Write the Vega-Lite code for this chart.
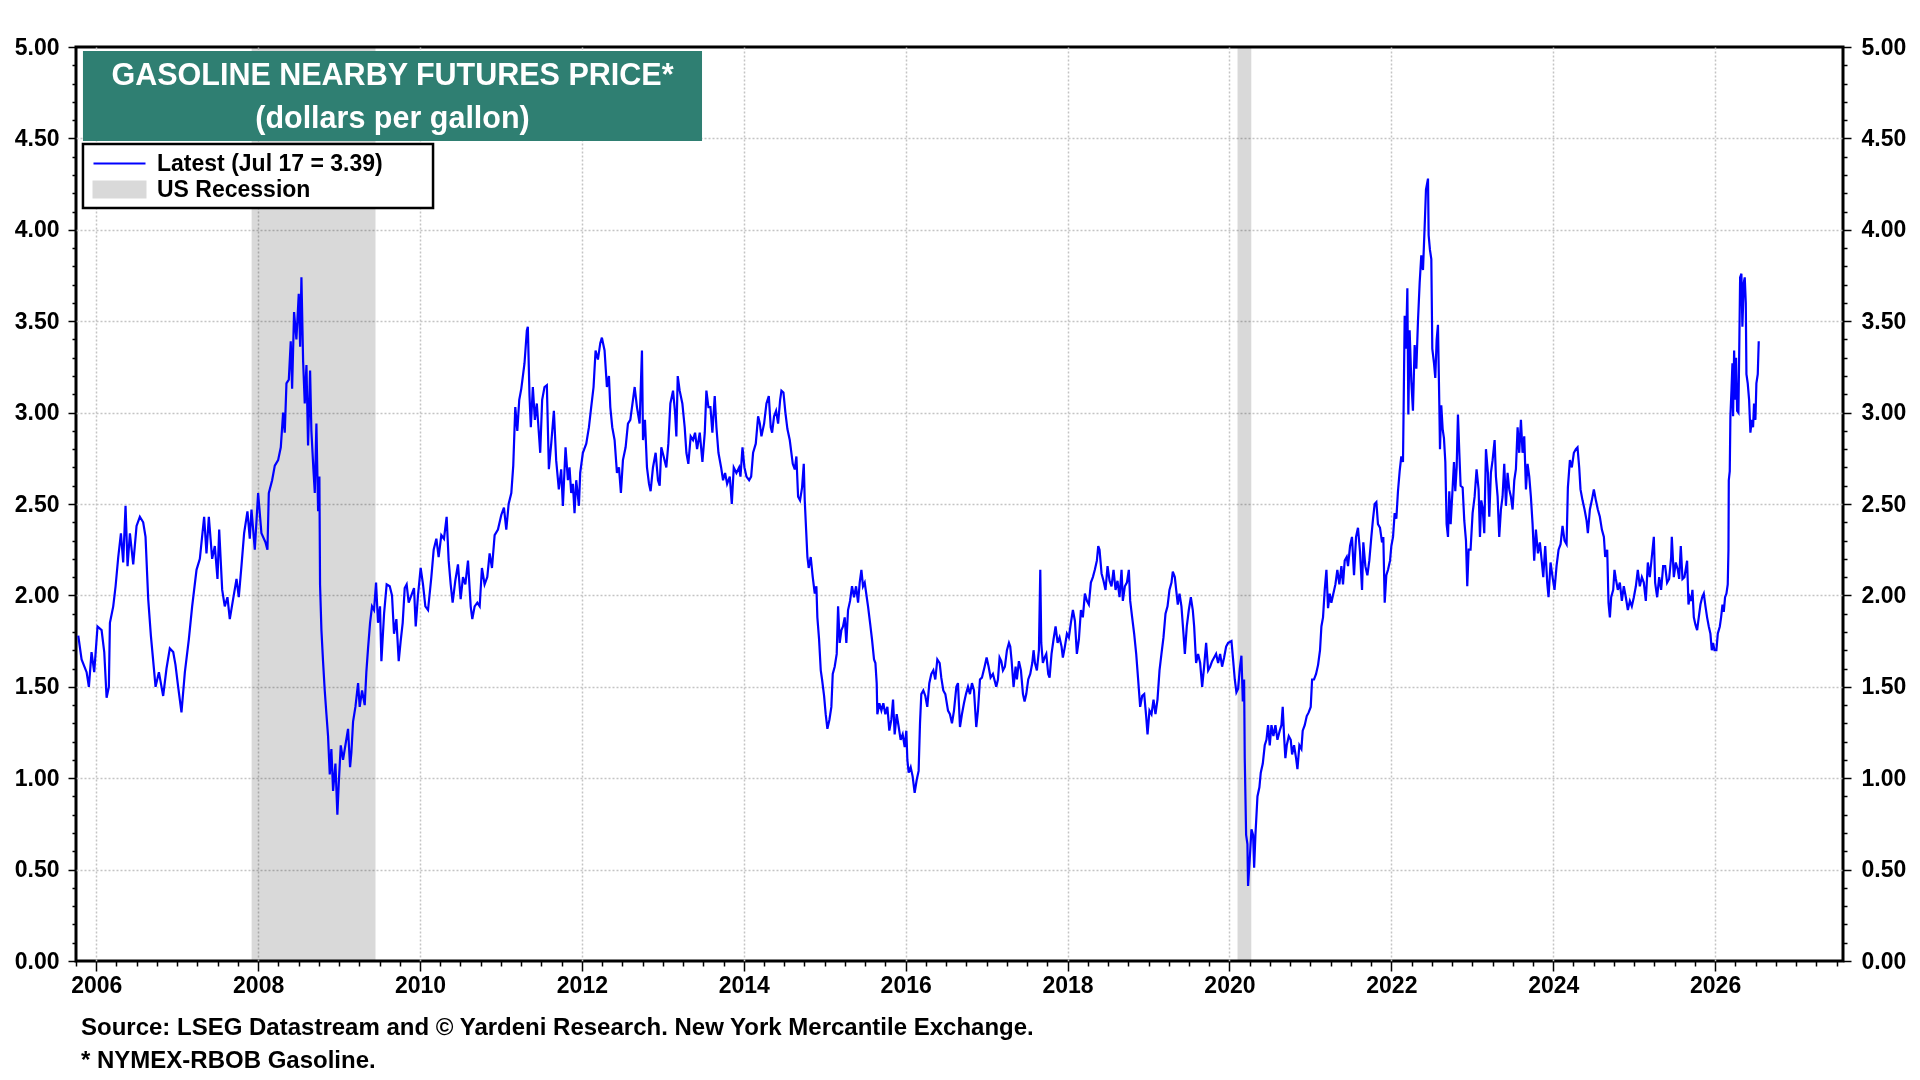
{
  "$schema": "https://vega.github.io/schema/vega-lite/v6.json",
  "width": 1767,
  "height": 914,
  "autosize": "none",
  "padding": {"left": 76, "top": 47, "right": 77, "bottom": 119},
  "background": "white",
  "config": {
    "view": {"stroke": "#000000", "strokeWidth": 3},
    "font": "Liberation Sans",
    "axis": {
      "domain": false,
      "title": null,
      "labelFont": "Liberation Sans",
      "labelFontWeight": "bold",
      "labelFontSize": 23,
      "labelColor": "#000000",
      "tickColor": "#000000",
      "tickWidth": 1.5,
      "labelOverlap": false,
      "labelFlush": false,
      "labelBound": false
    }
  },
  "title": {
    "text": ["Source: LSEG Datastream and © Yardeni Research. New York Mercantile Exchange.", "* NYMEX-RBOB Gasoline."],
    "orient": "bottom",
    "anchor": "start",
    "frame": "group",
    "font": "Liberation Sans",
    "fontSize": 24,
    "fontWeight": "bold",
    "color": "#000000",
    "lineHeight": 33,
    "offset": 19,
    "dx": 5
  },
  "datasets": {
    "recessions": [
      {"start": 2007.92, "end": 2009.45},
      {"start": 2020.1, "end": 2020.27}
    ],
    "gasoline": [
      {"year":2005.778,"price":1.78},{"year":2005.819,"price":1.65},{"year":2005.881,"price":1.58},{"year":2005.909,"price":1.50},{"year":2005.942,"price":1.69},{"year":2005.975,"price":1.58},{"year":2006.016,"price":1.83},{"year":2006.066,"price":1.81},{"year":2006.099,"price":1.69},{"year":2006.128,"price":1.44},{"year":2006.156,"price":1.50},{"year":2006.169,"price":1.85},{"year":2006.210,"price":1.94},{"year":2006.239,"price":2.05},{"year":2006.272,"price":2.21},{"year":2006.305,"price":2.34},{"year":2006.333,"price":2.18},{"year":2006.362,"price":2.49},{"year":2006.387,"price":2.16},{"year":2006.416,"price":2.34},{"year":2006.457,"price":2.17},{"year":2006.498,"price":2.38},{"year":2006.539,"price":2.43},{"year":2006.580,"price":2.40},{"year":2006.609,"price":2.32},{"year":2006.642,"price":1.98},{"year":2006.675,"price":1.78},{"year":2006.704,"price":1.64},{"year":2006.733,"price":1.50},{"year":2006.774,"price":1.58},{"year":2006.827,"price":1.45},{"year":2006.868,"price":1.60},{"year":2006.909,"price":1.71},{"year":2006.951,"price":1.69},{"year":2006.979,"price":1.62},{"year":2007.012,"price":1.50},{"year":2007.053,"price":1.36},{"year":2007.095,"price":1.58},{"year":2007.144,"price":1.76},{"year":2007.185,"price":1.94},{"year":2007.239,"price":2.14},{"year":2007.280,"price":2.20},{"year":2007.333,"price":2.43},{"year":2007.362,"price":2.23},{"year":2007.391,"price":2.43},{"year":2007.432,"price":2.20},{"year":2007.465,"price":2.27},{"year":2007.498,"price":2.09},{"year":2007.519,"price":2.36},{"year":2007.556,"price":2.03},{"year":2007.588,"price":1.94},{"year":2007.621,"price":1.99},{"year":2007.650,"price":1.87},{"year":2007.691,"price":1.98},{"year":2007.733,"price":2.09},{"year":2007.761,"price":1.99},{"year":2007.794,"price":2.16},{"year":2007.827,"price":2.34},{"year":2007.868,"price":2.46},{"year":2007.897,"price":2.31},{"year":2007.918,"price":2.47},{"year":2007.959,"price":2.25},{"year":2008.000,"price":2.56},{"year":2008.041,"price":2.34},{"year":2008.091,"price":2.29},{"year":2008.115,"price":2.25},{"year":2008.132,"price":2.56},{"year":2008.173,"price":2.63},{"year":2008.206,"price":2.71},{"year":2008.247,"price":2.74},{"year":2008.280,"price":2.81},{"year":2008.309,"price":3.00},{"year":2008.329,"price":2.89},{"year":2008.350,"price":3.16},{"year":2008.379,"price":3.18},
      {"year":2008.403,"price":3.39},{"year":2008.420,"price":3.13},{"year":2008.444,"price":3.55},{"year":2008.473,"price":3.40},{"year":2008.502,"price":3.65},{"year":2008.519,"price":3.36},{"year":2008.535,"price":3.74},{"year":2008.556,"price":3.28},{"year":2008.576,"price":3.05},{"year":2008.597,"price":3.26},{"year":2008.617,"price":2.82},{"year":2008.642,"price":3.23},{"year":2008.658,"price":2.90},{"year":2008.683,"price":2.69},{"year":2008.700,"price":2.56},{"year":2008.720,"price":2.94},{"year":2008.741,"price":2.46},{"year":2008.757,"price":2.65},{"year":2008.765,"price":2.06},{"year":2008.782,"price":1.81},{"year":2008.802,"price":1.64},{"year":2008.823,"price":1.48},{"year":2008.844,"price":1.35},{"year":2008.864,"price":1.23},{"year":2008.885,"price":1.02},{"year":2008.905,"price":1.16},{"year":2008.926,"price":0.93},{"year":2008.955,"price":1.08},{"year":2008.979,"price":0.80},{"year":2008.996,"price":0.97},{"year":2009.021,"price":1.18},{"year":2009.049,"price":1.10},{"year":2009.078,"price":1.18},{"year":2009.111,"price":1.27},{"year":2009.136,"price":1.06},{"year":2009.152,"price":1.14},{"year":2009.173,"price":1.31},{"year":2009.202,"price":1.39},{"year":2009.235,"price":1.52},{"year":2009.255,"price":1.39},{"year":2009.284,"price":1.48},{"year":2009.317,"price":1.40},{"year":2009.337,"price":1.58},{"year":2009.358,"price":1.71},{"year":2009.383,"price":1.85},{"year":2009.407,"price":1.94},{"year":2009.432,"price":1.92},{"year":2009.457,"price":2.07},{"year":2009.481,"price":1.85},{"year":2009.506,"price":1.94},{"year":2009.523,"price":1.64},{"year":2009.556,"price":1.90},{"year":2009.588,"price":2.06},{"year":2009.626,"price":2.05},{"year":2009.654,"price":2.00},{"year":2009.679,"price":1.79},{"year":2009.708,"price":1.87},{"year":2009.737,"price":1.64},{"year":2009.761,"price":1.75},{"year":2009.786,"price":1.85},{"year":2009.811,"price":2.04},{"year":2009.835,"price":2.06},{"year":2009.860,"price":1.96},{"year":2009.893,"price":2.00},{"year":2009.926,"price":2.04},{"year":2009.947,"price":1.83},{"year":2009.975,"price":2.00},{"year":2010.008,"price":2.15},{"year":2010.037,"price":2.06},{"year":2010.066,"price":1.94},{"year":2010.099,"price":1.92},{"year":2010.140,"price":2.10},{"year":2010.169,"price":2.25},{"year":2010.202,"price":2.31},{"year":2010.230,"price":2.21},{"year":2010.263,"price":2.33},{"year":2010.296,"price":2.31},{"year":2010.329,"price":2.43},{"year":2010.354,"price":2.19},{"year":2010.379,"price":2.06},{"year":2010.403,"price":1.96},{"year":2010.436,"price":2.08},{"year":2010.469,"price":2.17},{"year":2010.502,"price":1.98},{"year":2010.531,"price":2.10},{"year":2010.560,"price":2.06},{"year":2010.593,"price":2.19},{"year":2010.626,"price":1.94},{"year":2010.646,"price":1.87},{"year":2010.675,"price":1.94},{"year":2010.708,"price":1.96},{"year":2010.737,"price":1.94},{"year":2010.765,"price":2.15},{"year":2010.798,"price":2.06},{"year":2010.831,"price":2.10},{"year":2010.860,"price":2.23},{"year":2010.889,"price":2.15},{"year":2010.922,"price":2.33},{"year":2010.963,"price":2.36},{"year":2011.004,"price":2.44},{"year":2011.037,"price":2.48},{"year":2011.066,"price":2.36},{"year":2011.095,"price":2.50},{"year":2011.128,"price":2.56},{"year":2011.152,"price":2.71},{"year":2011.177,"price":3.03},{"year":2011.202,"price":2.90},{"year":2011.226,"price":3.07},{"year":2011.251,"price":3.13},
      {"year":2011.291,"price":3.27},{"year":2011.320,"price":3.45},{"year":2011.332,"price":3.47},{"year":2011.353,"price":3.09},{"year":2011.369,"price":2.92},{"year":2011.394,"price":3.14},{"year":2011.419,"price":2.96},{"year":2011.443,"price":3.05},{"year":2011.468,"price":2.89},{"year":2011.485,"price":2.78},{"year":2011.509,"price":3.07},{"year":2011.538,"price":3.14},{"year":2011.567,"price":3.15},{"year":2011.592,"price":2.69},{"year":2011.621,"price":2.83},{"year":2011.654,"price":3.01},{"year":2011.682,"price":2.74},{"year":2011.715,"price":2.58},{"year":2011.744,"price":2.69},{"year":2011.765,"price":2.49},{"year":2011.798,"price":2.81},{"year":2011.827,"price":2.63},{"year":2011.847,"price":2.70},{"year":2011.868,"price":2.56},{"year":2011.889,"price":2.61},{"year":2011.909,"price":2.45},{"year":2011.930,"price":2.63},{"year":2011.963,"price":2.49},{"year":2011.979,"price":2.67},{"year":2012.012,"price":2.78},{"year":2012.054,"price":2.83},{"year":2012.087,"price":2.92},{"year":2012.115,"price":3.03},{"year":2012.144,"price":3.14},{"year":2012.169,"price":3.34},{"year":2012.198,"price":3.29},{"year":2012.227,"price":3.38},{"year":2012.247,"price":3.41},{"year":2012.280,"price":3.34},{"year":2012.309,"price":3.14},{"year":2012.334,"price":3.20},{"year":2012.351,"price":3.03},{"year":2012.375,"price":2.92},{"year":2012.404,"price":2.85},{"year":2012.433,"price":2.67},{"year":2012.458,"price":2.70},{"year":2012.482,"price":2.56},{"year":2012.507,"price":2.74},{"year":2012.540,"price":2.81},{"year":2012.569,"price":2.94},{"year":2012.598,"price":2.96},{"year":2012.631,"price":3.07},{"year":2012.652,"price":3.14},{"year":2012.680,"price":3.03},{"year":2012.713,"price":2.94},{"year":2012.742,"price":3.34},{"year":2012.755,"price":2.85},{"year":2012.779,"price":2.96},{"year":2012.804,"price":2.70},{"year":2012.829,"price":2.61},{"year":2012.849,"price":2.57},{"year":2012.878,"price":2.70},{"year":2012.911,"price":2.78},{"year":2012.940,"price":2.63},{"year":2012.961,"price":2.60},{"year":2012.981,"price":2.81},{"year":2013.010,"price":2.76},{"year":2013.043,"price":2.70},{"year":2013.068,"price":2.83},{"year":2013.093,"price":3.05},{"year":2013.126,"price":3.12},{"year":2013.151,"price":3.00},{"year":2013.167,"price":2.87},{"year":2013.184,"price":3.20},{"year":2013.208,"price":3.12},{"year":2013.241,"price":3.05},{"year":2013.270,"price":2.92},{"year":2013.291,"price":2.78},{"year":2013.315,"price":2.72},{"year":2013.344,"price":2.87},{"year":2013.373,"price":2.85},{"year":2013.398,"price":2.89},{"year":2013.423,"price":2.80},{"year":2013.456,"price":2.89},{"year":2013.489,"price":2.73},{"year":2013.518,"price":2.89},{"year":2013.538,"price":3.12},{"year":2013.563,"price":3.03},{"year":2013.588,"price":3.03},{"year":2013.612,"price":2.89},{"year":2013.641,"price":3.09},{"year":2013.662,"price":2.92},{"year":2013.687,"price":2.78},{"year":2013.720,"price":2.70},{"year":2013.744,"price":2.63},{"year":2013.769,"price":2.67},{"year":2013.794,"price":2.61},{"year":2013.827,"price":2.65},{"year":2013.852,"price":2.50},{"year":2013.876,"price":2.70},{"year":2013.909,"price":2.67},{"year":2013.942,"price":2.70},{"year":2013.959,"price":2.65},{"year":2013.984,"price":2.81},{"year":2014.008,"price":2.70},{"year":2014.033,"price":2.65},{"year":2014.066,"price":2.63},{"year":2014.091,"price":2.65},{"year":2014.115,"price":2.78},{"year":2014.148,"price":2.83},
      {"year":2014.177,"price":2.98},{"year":2014.198,"price":2.94},{"year":2014.218,"price":2.87},{"year":2014.251,"price":2.94},{"year":2014.280,"price":3.05},{"year":2014.309,"price":3.09},{"year":2014.333,"price":2.92},{"year":2014.350,"price":2.89},{"year":2014.374,"price":2.98},{"year":2014.399,"price":3.01},{"year":2014.424,"price":2.94},{"year":2014.449,"price":3.07},{"year":2014.465,"price":3.12},{"year":2014.490,"price":3.11},{"year":2014.514,"price":3.00},{"year":2014.539,"price":2.91},{"year":2014.568,"price":2.85},{"year":2014.588,"price":2.78},{"year":2014.605,"price":2.72},{"year":2014.630,"price":2.69},{"year":2014.650,"price":2.76},{"year":2014.671,"price":2.54},{"year":2014.695,"price":2.52},{"year":2014.720,"price":2.59},{"year":2014.741,"price":2.72},{"year":2014.753,"price":2.52},{"year":2014.770,"price":2.36},{"year":2014.786,"price":2.21},{"year":2014.802,"price":2.15},{"year":2014.827,"price":2.21},{"year":2014.852,"price":2.10},{"year":2014.877,"price":2.01},{"year":2014.897,"price":2.05},{"year":2014.909,"price":1.88},{"year":2014.930,"price":1.76},{"year":2014.951,"price":1.59},{"year":2014.967,"price":1.54},{"year":2014.992,"price":1.45},{"year":2015.012,"price":1.35},{"year":2015.033,"price":1.27},{"year":2015.058,"price":1.32},{"year":2015.082,"price":1.39},{"year":2015.099,"price":1.57},{"year":2015.123,"price":1.61},{"year":2015.148,"price":1.68},{"year":2015.165,"price":1.94},{"year":2015.185,"price":1.74},{"year":2015.206,"price":1.81},{"year":2015.226,"price":1.83},{"year":2015.247,"price":1.88},{"year":2015.267,"price":1.74},{"year":2015.288,"price":1.92},{"year":2015.313,"price":1.97},{"year":2015.337,"price":2.05},{"year":2015.362,"price":1.99},{"year":2015.387,"price":2.05},{"year":2015.412,"price":1.96},{"year":2015.432,"price":2.07},{"year":2015.453,"price":2.14},{"year":2015.473,"price":2.05},{"year":2015.494,"price":2.07},{"year":2015.519,"price":1.99},{"year":2015.535,"price":1.94},{"year":2015.560,"price":1.85},{"year":2015.584,"price":1.76},{"year":2015.609,"price":1.65},{"year":2015.626,"price":1.63},{"year":2015.642,"price":1.52},{"year":2015.650,"price":1.35},{"year":2015.675,"price":1.41},{"year":2015.700,"price":1.37},{"year":2015.724,"price":1.41},{"year":2015.749,"price":1.35},{"year":2015.774,"price":1.39},{"year":2015.798,"price":1.26},{"year":2015.823,"price":1.32},{"year":2015.844,"price":1.43},{"year":2015.864,"price":1.24},{"year":2015.889,"price":1.35},{"year":2015.914,"price":1.28},{"year":2015.938,"price":1.21},{"year":2015.963,"price":1.24},{"year":2015.988,"price":1.17},{"year":2016.008,"price":1.26},{"year":2016.021,"price":1.10},{"year":2016.037,"price":1.03},{"year":2016.062,"price":1.06},{"year":2016.086,"price":1.01},{"year":2016.111,"price":0.92},{"year":2016.136,"price":0.99},{"year":2016.160,"price":1.04},{"year":2016.177,"price":1.30},{"year":2016.193,"price":1.46},{"year":2016.218,"price":1.48},{"year":2016.243,"price":1.45},{"year":2016.267,"price":1.39},{"year":2016.292,"price":1.52},{"year":2016.317,"price":1.57},{"year":2016.342,"price":1.59},{"year":2016.366,"price":1.54},{"year":2016.391,"price":1.65},{"year":2016.420,"price":1.63},{"year":2016.440,"price":1.55},{"year":2016.465,"price":1.48},{"year":2016.490,"price":1.46},{"year":2016.523,"price":1.37},{"year":2016.547,"price":1.35},{"year":2016.572,"price":1.30},{"year":2016.597,"price":1.37},{"year":2016.626,"price":1.50},{"year":2016.646,"price":1.52},{"year":2016.671,"price":1.28},{"year":2016.695,"price":1.35},{"year":2016.720,"price":1.41},{"year":2016.745,"price":1.46},{"year":2016.770,"price":1.50},{"year":2016.794,"price":1.46},{"year":2016.819,"price":1.52},{"year":2016.844,"price":1.48},{"year":2016.872,"price":1.28},{"year":2016.893,"price":1.37},{"year":2016.918,"price":1.54},{"year":2016.942,"price":1.55},{"year":2016.975,"price":1.61},{"year":2017.000,"price":1.66},{"year":2017.025,"price":1.61},{"year":2017.049,"price":1.55},{"year":2017.078,"price":1.57},
      {"year":2017.119,"price":1.50},{"year":2017.140,"price":1.54},{"year":2017.160,"price":1.66},{"year":2017.181,"price":1.64},{"year":2017.202,"price":1.59},{"year":2017.226,"price":1.61},{"year":2017.251,"price":1.70},{"year":2017.276,"price":1.74},{"year":2017.292,"price":1.72},{"year":2017.309,"price":1.64},{"year":2017.333,"price":1.50},{"year":2017.358,"price":1.61},{"year":2017.374,"price":1.54},{"year":2017.399,"price":1.64},{"year":2017.424,"price":1.59},{"year":2017.449,"price":1.46},{"year":2017.469,"price":1.42},{"year":2017.490,"price":1.46},{"year":2017.514,"price":1.54},{"year":2017.539,"price":1.57},{"year":2017.564,"price":1.63},{"year":2017.580,"price":1.70},{"year":2017.597,"price":1.63},{"year":2017.621,"price":1.59},{"year":2017.646,"price":1.70},{"year":2017.663,"price":2.14},{"year":2017.675,"price":1.74},{"year":2017.695,"price":1.63},{"year":2017.716,"price":1.66},{"year":2017.737,"price":1.68},{"year":2017.761,"price":1.57},{"year":2017.778,"price":1.55},{"year":2017.802,"price":1.68},{"year":2017.827,"price":1.76},{"year":2017.852,"price":1.83},{"year":2017.877,"price":1.74},{"year":2017.901,"price":1.77},{"year":2017.926,"price":1.72},{"year":2017.942,"price":1.66},{"year":2017.967,"price":1.72},{"year":2017.992,"price":1.79},{"year":2018.016,"price":1.77},{"year":2018.041,"price":1.85},{"year":2018.066,"price":1.92},{"year":2018.091,"price":1.86},{"year":2018.115,"price":1.68},{"year":2018.140,"price":1.76},{"year":2018.165,"price":1.92},{"year":2018.189,"price":1.88},{"year":2018.214,"price":2.01},{"year":2018.239,"price":1.97},{"year":2018.263,"price":1.95},{"year":2018.288,"price":2.07},{"year":2018.313,"price":2.10},{"year":2018.337,"price":2.14},{"year":2018.362,"price":2.19},{"year":2018.379,"price":2.27},{"year":2018.395,"price":2.25},{"year":2018.420,"price":2.12},{"year":2018.444,"price":2.08},{"year":2018.469,"price":2.03},{"year":2018.494,"price":2.16},{"year":2018.519,"price":2.08},{"year":2018.543,"price":2.05},{"year":2018.568,"price":2.14},{"year":2018.593,"price":2.03},{"year":2018.617,"price":2.08},{"year":2018.642,"price":1.99},{"year":2018.667,"price":2.14},{"year":2018.683,"price":1.97},{"year":2018.708,"price":2.05},{"year":2018.733,"price":2.07},{"year":2018.757,"price":2.14},{"year":2018.774,"price":1.97},{"year":2018.798,"price":1.88},{"year":2018.823,"price":1.79},{"year":2018.848,"price":1.68},{"year":2018.872,"price":1.54},{"year":2018.897,"price":1.39},{"year":2018.922,"price":1.45},{"year":2018.947,"price":1.46},{"year":2018.971,"price":1.34},{"year":2018.988,"price":1.24},{"year":2019.012,"price":1.37},{"year":2019.037,"price":1.35},{"year":2019.062,"price":1.43},{"year":2019.086,"price":1.35},{"year":2019.111,"price":1.43},{"year":2019.136,"price":1.59},{"year":2019.160,"price":1.68},{"year":2019.185,"price":1.77},{"year":2019.210,"price":1.90},{"year":2019.235,"price":1.94},{"year":2019.259,"price":2.03},{"year":2019.284,"price":2.07},{"year":2019.300,"price":2.13},{"year":2019.325,"price":2.10},{"year":2019.342,"price":2.03},{"year":2019.362,"price":1.95},{"year":2019.383,"price":2.01},{"year":2019.407,"price":1.94},{"year":2019.432,"price":1.79},{"year":2019.449,"price":1.68},{"year":2019.473,"price":1.83},{"year":2019.498,"price":1.92},{"year":2019.523,"price":1.99},{"year":2019.547,"price":1.92},{"year":2019.564,"price":1.83},{"year":2019.588,"price":1.63},{"year":2019.613,"price":1.68},{"year":2019.638,"price":1.63},{"year":2019.663,"price":1.50},{"year":2019.687,"price":1.61},{"year":2019.712,"price":1.74},{"year":2019.737,"price":1.59},{"year":2019.761,"price":1.61},{"year":2019.786,"price":1.64},{"year":2019.811,"price":1.66},{"year":2019.835,"price":1.68},{"year":2019.860,"price":1.63},{"year":2019.885,"price":1.68},{"year":2019.909,"price":1.61},{"year":2019.934,"price":1.66},{"year":2019.959,"price":1.72},{"year":2019.984,"price":1.74},
      {"year":2020.025,"price":1.75},{"year":2020.045,"price":1.65},{"year":2020.066,"price":1.54},{"year":2020.086,"price":1.47},{"year":2020.107,"price":1.49},{"year":2020.128,"price":1.60},{"year":2020.148,"price":1.67},{"year":2020.165,"price":1.42},{"year":2020.181,"price":1.54},{"year":2020.189,"price":1.11},{"year":2020.206,"price":0.69},{"year":2020.222,"price":0.64},{"year":2020.230,"price":0.41},{"year":2020.251,"price":0.56},{"year":2020.272,"price":0.72},{"year":2020.292,"price":0.69},{"year":2020.305,"price":0.51},{"year":2020.321,"price":0.69},{"year":2020.346,"price":0.90},{"year":2020.370,"price":0.95},{"year":2020.387,"price":1.03},{"year":2020.412,"price":1.08},{"year":2020.436,"price":1.18},{"year":2020.457,"price":1.21},{"year":2020.477,"price":1.29},{"year":2020.498,"price":1.18},{"year":2020.519,"price":1.29},{"year":2020.543,"price":1.23},{"year":2020.568,"price":1.29},{"year":2020.593,"price":1.21},{"year":2020.621,"price":1.26},{"year":2020.642,"price":1.29},{"year":2020.658,"price":1.39},{"year":2020.675,"price":1.23},{"year":2020.691,"price":1.11},{"year":2020.708,"price":1.18},{"year":2020.733,"price":1.23},{"year":2020.757,"price":1.21},{"year":2020.774,"price":1.13},{"year":2020.798,"price":1.18},{"year":2020.823,"price":1.11},{"year":2020.840,"price":1.05},{"year":2020.864,"price":1.18},{"year":2020.889,"price":1.16},{"year":2020.905,"price":1.26},{"year":2020.930,"price":1.29},{"year":2020.955,"price":1.34},{"year":2020.979,"price":1.36},{"year":2021.004,"price":1.39},{"year":2021.021,"price":1.54},{"year":2021.045,"price":1.54},{"year":2021.070,"price":1.57},{"year":2021.095,"price":1.62},{"year":2021.119,"price":1.70},{"year":2021.136,"price":1.83},{"year":2021.156,"price":1.88},{"year":2021.177,"price":2.03},{"year":2021.198,"price":2.14},{"year":2021.218,"price":1.93},{"year":2021.239,"price":2.01},{"year":2021.259,"price":1.96},{"year":2021.284,"price":2.01},{"year":2021.309,"price":2.06},{"year":2021.333,"price":2.14},{"year":2021.358,"price":2.06},{"year":2021.383,"price":2.16},{"year":2021.403,"price":2.06},{"year":2021.424,"price":2.19},{"year":2021.449,"price":2.21},{"year":2021.465,"price":2.16},{"year":2021.490,"price":2.27},{"year":2021.514,"price":2.32},{"year":2021.539,"price":2.11},{"year":2021.564,"price":2.32},{"year":2021.588,"price":2.37},{"year":2021.613,"price":2.24},{"year":2021.638,"price":2.03},{"year":2021.654,"price":2.29},{"year":2021.679,"price":2.16},{"year":2021.704,"price":2.11},{"year":2021.728,"price":2.19},{"year":2021.753,"price":2.32},{"year":2021.774,"price":2.42},{"year":2021.794,"price":2.50},{"year":2021.815,"price":2.51},{"year":2021.835,"price":2.39},{"year":2021.860,"price":2.37},{"year":2021.885,"price":2.29},{"year":2021.901,"price":2.32},{"year":2021.918,"price":1.96},{"year":2021.938,"price":2.11},{"year":2021.959,"price":2.14},{"year":2021.984,"price":2.19},{"year":2022.000,"price":2.27},{"year":2022.021,"price":2.32},{"year":2022.041,"price":2.45},{"year":2022.062,"price":2.42},{"year":2022.082,"price":2.57},{"year":2022.103,"price":2.68},{"year":2022.123,"price":2.76},{"year":2022.144,"price":2.73},{"year":2022.165,"price":3.53},{"year":2022.181,"price":3.35},{"year":2022.198,"price":3.68},{"year":2022.210,"price":2.99},{"year":2022.226,"price":3.45},{"year":2022.247,"price":3.17},{"year":2022.267,"price":3.01},{"year":2022.288,"price":3.37},{"year":2022.309,"price":3.24},{"year":2022.329,"price":3.50},{"year":2022.350,"price":3.71},{"year":2022.370,"price":3.86},{"year":2022.391,"price":3.78},{"year":2022.412,"price":4.02},{"year":2022.428,"price":4.22},{"year":2022.453,"price":4.28},{"year":2022.461,"price":3.97},{"year":2022.477,"price":3.89},{"year":2022.494,"price":3.84},{"year":2022.506,"price":3.35},{"year":2022.527,"price":3.27},{"year":2022.543,"price":3.19},{"year":2022.560,"price":3.40},{"year":2022.576,"price":3.48},{"year":2022.593,"price":3.04},{"year":2022.601,"price":2.80},{"year":2022.617,"price":3.04},{"year":2022.634,"price":2.91},{"year":2022.650,"price":2.86},{"year":2022.667,"price":2.73},{"year":2022.683,"price":2.39},{"year":2022.700,"price":2.32},{"year":2022.716,"price":2.57},{"year":2022.733,"price":2.39},{"year":2022.749,"price":2.52},{"year":2022.774,"price":2.73},{"year":2022.790,"price":2.57},{"year":2022.807,"price":2.70},{"year":2022.823,"price":2.99},{"year":2022.840,"price":2.78},{"year":2022.856,"price":2.60},
      {"year":2022.881,"price":2.59},{"year":2022.901,"price":2.41},{"year":2022.922,"price":2.30},{"year":2022.938,"price":2.05},{"year":2022.955,"price":2.25},{"year":2022.979,"price":2.25},{"year":2023.004,"price":2.45},{"year":2023.029,"price":2.54},{"year":2023.053,"price":2.69},{"year":2023.078,"price":2.58},{"year":2023.095,"price":2.32},{"year":2023.111,"price":2.52},{"year":2023.128,"price":2.48},{"year":2023.148,"price":2.34},{"year":2023.169,"price":2.80},{"year":2023.193,"price":2.67},{"year":2023.210,"price":2.43},{"year":2023.230,"price":2.67},{"year":2023.251,"price":2.74},{"year":2023.276,"price":2.85},{"year":2023.292,"price":2.65},{"year":2023.313,"price":2.54},{"year":2023.333,"price":2.32},{"year":2023.354,"price":2.47},{"year":2023.374,"price":2.54},{"year":2023.395,"price":2.72},{"year":2023.416,"price":2.49},{"year":2023.436,"price":2.67},{"year":2023.457,"price":2.58},{"year":2023.477,"price":2.54},{"year":2023.498,"price":2.47},{"year":2023.519,"price":2.63},{"year":2023.539,"price":2.69},{"year":2023.560,"price":2.92},{"year":2023.580,"price":2.78},{"year":2023.601,"price":2.96},{"year":2023.621,"price":2.78},{"year":2023.642,"price":2.87},{"year":2023.663,"price":2.58},{"year":2023.683,"price":2.72},{"year":2023.704,"price":2.65},{"year":2023.724,"price":2.54},{"year":2023.745,"price":2.39},{"year":2023.765,"price":2.19},{"year":2023.786,"price":2.36},{"year":2023.811,"price":2.23},{"year":2023.835,"price":2.29},{"year":2023.860,"price":2.18},{"year":2023.877,"price":2.10},{"year":2023.901,"price":2.27},{"year":2023.926,"price":2.07},{"year":2023.942,"price":1.99},{"year":2023.967,"price":2.18},{"year":2023.992,"price":2.10},{"year":2024.016,"price":2.03},{"year":2024.041,"price":2.16},{"year":2024.066,"price":2.25},{"year":2024.091,"price":2.28},{"year":2024.115,"price":2.38},{"year":2024.140,"price":2.30},{"year":2024.165,"price":2.28},{"year":2024.181,"price":2.59},{"year":2024.206,"price":2.74},{"year":2024.230,"price":2.70},{"year":2024.255,"price":2.78},{"year":2024.280,"price":2.80},{"year":2024.300,"price":2.81},{"year":2024.321,"price":2.70},{"year":2024.337,"price":2.58},{"year":2024.362,"price":2.52},{"year":2024.387,"price":2.47},{"year":2024.412,"price":2.41},{"year":2024.428,"price":2.34},{"year":2024.453,"price":2.47},{"year":2024.477,"price":2.52},{"year":2024.502,"price":2.58},{"year":2024.527,"price":2.52},{"year":2024.551,"price":2.47},{"year":2024.576,"price":2.43},{"year":2024.601,"price":2.36},{"year":2024.626,"price":2.32},{"year":2024.642,"price":2.21},{"year":2024.667,"price":2.25},{"year":2024.683,"price":1.96},{"year":2024.700,"price":1.88},{"year":2024.716,"price":1.99},{"year":2024.741,"price":2.03},{"year":2024.757,"price":2.14},{"year":2024.774,"price":2.09},{"year":2024.798,"price":2.03},{"year":2024.823,"price":2.07},{"year":2024.848,"price":1.97},{"year":2024.872,"price":2.05},{"year":2024.897,"price":1.99},{"year":2024.922,"price":1.92},{"year":2024.947,"price":1.97},{"year":2024.971,"price":1.94},{"year":2024.996,"price":1.99},{"year":2025.021,"price":2.05},{"year":2025.045,"price":2.14},{"year":2025.070,"price":2.05},{"year":2025.095,"price":2.10},{"year":2025.119,"price":2.07},{"year":2025.144,"price":1.97},{"year":2025.169,"price":2.18},{"year":2025.193,"price":2.10},{"year":2025.218,"price":2.21},{"year":2025.243,"price":2.32},{"year":2025.259,"price":2.07},{"year":2025.284,"price":1.99},{"year":2025.309,"price":2.10},{"year":2025.333,"price":2.03},{"year":2025.358,"price":2.16},{"year":2025.383,"price":2.16},{"year":2025.407,"price":2.07},{"year":2025.432,"price":2.09},{"year":2025.457,"price":2.21},{"year":2025.465,"price":2.32},{"year":2025.490,"price":2.10},{"year":2025.514,"price":2.18},{"year":2025.539,"price":2.14},{"year":2025.556,"price":2.09},{"year":2025.576,"price":2.27},{"year":2025.597,"price":2.09},{"year":2025.621,"price":2.10},
      {"year":2025.654,"price":2.19},{"year":2025.671,"price":1.95},{"year":2025.687,"price":1.99},{"year":2025.704,"price":1.97},{"year":2025.720,"price":2.03},{"year":2025.737,"price":1.88},{"year":2025.757,"price":1.84},{"year":2025.778,"price":1.81},{"year":2025.798,"price":1.88},{"year":2025.819,"price":1.95},{"year":2025.840,"price":1.99},{"year":2025.860,"price":2.01},{"year":2025.881,"price":1.94},{"year":2025.901,"price":1.88},{"year":2025.922,"price":1.83},{"year":2025.942,"price":1.79},{"year":2025.959,"price":1.70},{"year":2025.975,"price":1.74},{"year":2025.992,"price":1.70},{"year":2026.016,"price":1.70},{"year":2026.033,"price":1.79},{"year":2026.058,"price":1.83},{"year":2026.074,"price":1.88},{"year":2026.091,"price":1.95},{"year":2026.107,"price":1.91},{"year":2026.123,"price":1.99},{"year":2026.140,"price":2.01},{"year":2026.156,"price":2.06},{"year":2026.165,"price":2.25},{"year":2026.169,"price":2.63},{"year":2026.181,"price":2.68},{"year":2026.189,"price":2.98},{"year":2026.202,"price":3.12},{"year":2026.214,"price":3.27},{"year":2026.222,"price":2.98},{"year":2026.235,"price":3.34},{"year":2026.247,"price":3.07},{"year":2026.259,"price":3.30},{"year":2026.272,"price":3.01},{"year":2026.288,"price":3.00},{"year":2026.300,"price":3.41},{"year":2026.309,"price":3.74},{"year":2026.325,"price":3.76},{"year":2026.337,"price":3.47},{"year":2026.354,"price":3.71},{"year":2026.366,"price":3.74},{"year":2026.379,"price":3.60},{"year":2026.387,"price":3.21},{"year":2026.403,"price":3.16},{"year":2026.420,"price":3.07},{"year":2026.436,"price":2.89},{"year":2026.453,"price":2.96},{"year":2026.469,"price":2.92},{"year":2026.481,"price":3.05},{"year":2026.498,"price":2.96},{"year":2026.510,"price":3.16},{"year":2026.527,"price":3.21},{"year":2026.539,"price":3.39}
    ]
  },
  "layer": [
    {
      "data": {"name": "recessions"},
      "mark": {"type": "rect", "blend": "multiply"},
      "encoding": {
        "x": {
          "field": "start",
          "type": "quantitative",
          "scale": {"domain": [2005.75, 2027.58], "nice": false, "zero": false},
          "axis": {
            "orient": "bottom",
            "values": [2005.75,2006,2006.25,2006.5,2006.75,2007,2007.25,2007.5,2007.75,2008,2008.25,2008.5,2008.75,2009,2009.25,2009.5,2009.75,2010,2010.25,2010.5,2010.75,2011,2011.25,2011.5,2011.75,2012,2012.25,2012.5,2012.75,2013,2013.25,2013.5,2013.75,2014,2014.25,2014.5,2014.75,2015,2015.25,2015.5,2015.75,2016,2016.25,2016.5,2016.75,2017,2017.25,2017.5,2017.75,2018,2018.25,2018.5,2018.75,2019,2019.25,2019.5,2019.75,2020,2020.25,2020.5,2020.75,2021,2021.25,2021.5,2021.75,2022,2022.25,2022.5,2022.75,2023,2023.25,2023.5,2023.75,2024,2024.25,2024.5,2024.75,2025,2025.25,2025.5,2025.75,2026,2026.25,2026.5,2026.75,2027,2027.25,2027.5],
            "labelExpr": "datum.value % 2 === 0 ? format(datum.value, 'd') : ''",
            "tickSize": {"condition": {"test": "datum.value % 2 === 0", "value": 10}, "value": 5},
            "grid": true,
            "gridColor": "#c4c4c4",
            "gridDash": [2, 2],
            "gridWidth": 1.5,
            "gridOpacity": {"condition": {"test": "datum.value % 2 === 0", "value": 1}, "value": 0},
            "labelPadding": 3
          }
        },
        "x2": {"field": "end"},
        "y": {
          "datum": 0,
          "type": "quantitative",
          "scale": {"domain": [0, 5], "nice": false},
          "axis": {
            "orient": "left",
            "values": [0,0.1,0.2,0.3,0.4,0.5,0.6,0.7,0.8,0.9,1,1.1,1.2,1.3,1.4,1.5,1.6,1.7,1.8,1.9,2,2.1,2.2,2.3,2.4,2.5,2.6,2.7,2.8,2.9,3,3.1,3.2,3.3,3.4,3.5,3.6,3.7,3.8,3.9,4,4.1,4.2,4.3,4.4,4.5,4.6,4.7,4.8,4.9,5],
            "labelExpr": "round(datum.value * 10) % 5 === 0 ? format(datum.value, '.2f') : ''",
            "tickSize": {"condition": {"test": "round(datum.value * 10) % 5 === 0", "value": 8}, "value": 4},
            "grid": true,
            "gridColor": "#c4c4c4",
            "gridDash": [2, 2],
            "gridWidth": 1.5,
            "gridOpacity": {"condition": {"test": "round(datum.value * 10) % 5 === 0 && datum.value > 0 && datum.value < 5", "value": 1}, "value": 0},
            "labelPadding": 9
          }
        },
        "y2": {"datum": 5},
        "color": {
          "datum": "US Recession",
          "type": "nominal",
          "scale": {"domain": ["Latest (Jul 17 = 3.39)", "US Recession"], "range": ["#0000ff", "#d9d9d9"]},
          "legend": {
            "title": null,
            "orient": "none",
            "legendX": 0,
            "legendY": 105,
            "padding": 0,
            "symbolSize": 400,
            "symbolOffset": 32,
            "labelOffset": 26,
            "rowPadding": 1,
            "labelFont": "Liberation Sans",
            "labelFontSize": 23,
            "labelFontWeight": "bold",
            "labelColor": "#000000",
            "labelLimit": 500,
            "encode": {
              "symbols": {
                "update": {
                  "shape": {"signal": "datum.value === 'US Recession' ? 'M-2.6,-0.8H2.6V0.8H-2.6Z' : 'M-2.6,0H2.6'"},
                  "strokeWidth": {"value": 2},
                  "opacity": {"value": 1}
                }
              }
            }
          }
        }
      }
    },
    {
      "data": {"name": "gasoline"},
      "mark": {"type": "line", "strokeWidth": 2.2},
      "encoding": {
        "x": {
          "field": "year",
          "type": "quantitative",
          "scale": {"domain": [2005.75, 2027.58], "nice": false, "zero": false},
          "axis": null
        },
        "y": {
          "field": "price",
          "type": "quantitative",
          "scale": {"domain": [0, 5], "nice": false},
          "axis": {
            "orient": "right",
            "values": [0,0.1,0.2,0.3,0.4,0.5,0.6,0.7,0.8,0.9,1,1.1,1.2,1.3,1.4,1.5,1.6,1.7,1.8,1.9,2,2.1,2.2,2.3,2.4,2.5,2.6,2.7,2.8,2.9,3,3.1,3.2,3.3,3.4,3.5,3.6,3.7,3.8,3.9,4,4.1,4.2,4.3,4.4,4.5,4.6,4.7,4.8,4.9,5],
            "labelExpr": "round(datum.value * 10) % 5 === 0 ? format(datum.value, '.2f') : ''",
            "tickSize": {"condition": {"test": "round(datum.value * 10) % 5 === 0", "value": 8}, "value": 4},
            "grid": false,
            "labelPadding": 10
          }
        },
        "color": {
          "datum": "Latest (Jul 17 = 3.39)",
          "type": "nominal",
          "scale": {"domain": ["Latest (Jul 17 = 3.39)", "US Recession"], "range": ["#0000ff", "#d9d9d9"]},
          "legend": {
            "title": null,
            "orient": "none",
            "legendX": 0,
            "legendY": 105,
            "padding": 0,
            "symbolSize": 400,
            "symbolOffset": 32,
            "labelOffset": 26,
            "rowPadding": 1,
            "labelFont": "Liberation Sans",
            "labelFontSize": 23,
            "labelFontWeight": "bold",
            "labelColor": "#000000",
            "labelLimit": 500,
            "encode": {
              "symbols": {
                "update": {
                  "shape": {"signal": "datum.value === 'US Recession' ? 'M-2.6,-0.8H2.6V0.8H-2.6Z' : 'M-2.6,0H2.6'"},
                  "strokeWidth": {"value": 2},
                  "opacity": {"value": 1}
                }
              }
            }
          }
        }
      }
    },
    {
      "data": {"values": [{}]},
      "mark": {"type": "rect", "fill": "#2f7f72"},
      "encoding": {
        "x": {"datum": 2005.836, "type": "quantitative", "scale": {"domain": [2005.75, 2027.58], "nice": false, "zero": false}, "axis": null},
        "x2": {"datum": 2013.484},
        "y": {"datum": 4.978, "type": "quantitative", "scale": {"domain": [0, 5], "nice": false}, "axis": null},
        "y2": {"datum": 4.486}
      }
    },
    {
      "data": {"values": [{}]},
      "mark": {
        "type": "text",
        "text": ["GASOLINE NEARBY FUTURES PRICE*", "(dollars per gallon)"],
        "font": "Liberation Sans",
        "fontSize": 30.5,
        "fontWeight": "bold",
        "color": "#ffffff",
        "align": "center",
        "baseline": "middle",
        "lineHeight": 43
      },
      "encoding": {
        "x": {"datum": 2009.66, "type": "quantitative", "scale": {"domain": [2005.75, 2027.58], "nice": false, "zero": false}, "axis": null},
        "y": {"datum": 4.84, "type": "quantitative", "scale": {"domain": [0, 5], "nice": false}, "axis": null}
      }
    },
    {
      "data": {"values": [{}]},
      "mark": {"type": "rect", "fill": "#ffffff", "stroke": "#000000", "strokeWidth": 2.5},
      "encoding": {
        "x": {"datum": 2005.836, "type": "quantitative", "scale": {"domain": [2005.75, 2027.58], "nice": false, "zero": false}, "axis": null},
        "x2": {"datum": 2010.161},
        "y": {"datum": 4.469, "type": "quantitative", "scale": {"domain": [0, 5], "nice": false}, "axis": null},
        "y2": {"datum": 4.119}
      }
    }
  ],
  "resolve": {"axis": {"x": "independent", "y": "independent"}}
}
